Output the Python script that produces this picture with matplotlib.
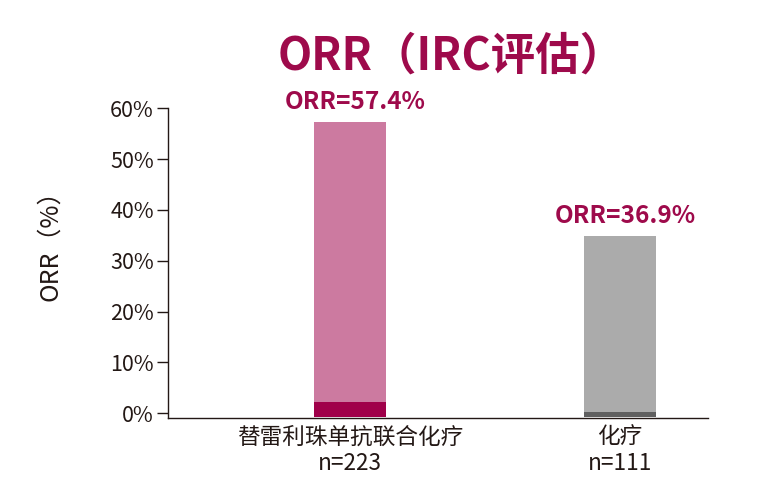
import matplotlib
matplotlib.use("Agg")
import matplotlib.pyplot as plt
from matplotlib.ticker import FixedLocator

plt.rcParams['font.family'] = ['Noto Sans CJK SC', 'DejaVu Sans']

# ---- data ----
categories = ["替雷利珠单抗联合化疗\nn=223", "化疗\nn=111"]
cr_values = [2.95, 0.9]          # dark bottom segment height (%)
bar_totals = [58.05, 35.55]      # total drawn bar height (%)
orr_labels = ["ORR=57.4%", "ORR=36.9%"]
yticks = [0, 10, 20, 30, 40, 50, 60]
ytick_labels = ["0%", "10%", "20%", "30%", "40%", "50%", "60%"]

# ---- style ----
accent = "#9E0A4B"
light_colors = ["#CC7AA0", "#ABABAB"]
dark_colors = ["#A0004A", "#606060"]
text_color = "#231815"
baseline = -0.65

fig = plt.figure(figsize=(7.57, 4.90), dpi=100)
ax = fig.add_axes([0.2215, 0.1463, 0.7138, 0.6327])

x = list(range(len(categories)))
width = 0.267
for i in x:
    ax.bar(i, cr_values[i], bottom=baseline, width=width, color=dark_colors[i], linewidth=0)
    ax.bar(i, bar_totals[i] - cr_values[i], bottom=baseline + cr_values[i], width=width,
           color=light_colors[i], linewidth=0)
    ax.text(i + 0.02, baseline + bar_totals[i] + 1.5, orr_labels[i], ha='center', va='bottom',
            color=accent, fontsize=17.5, fontweight='bold')

ax.set_xlim(-0.675, 1.326)
ax.set_ylim(-0.98, 60)
ax.set_yticks(yticks)
ax.set_yticklabels(ytick_labels, fontsize=15.5, color=text_color)
ax.yaxis.set_minor_locator(FixedLocator([60]))
ax.tick_params(axis='y', which='major', direction='out', length=8, width=1, colors=text_color, pad=2)
ax.tick_params(axis='y', which='minor', direction='inout', length=17, width=1, colors=text_color)
ax.set_xticks(x)
ax.set_xticklabels(categories, fontsize=16.3, color=text_color, linespacing=1.2)
ax.tick_params(axis='x', length=0, pad=5)

for s in ['top', 'right']:
    ax.spines[s].set_visible(False)
ax.spines['left'].set_bounds(-0.98, 60)
for s in ['left', 'bottom']:
    ax.spines[s].set_color(text_color)
    ax.spines[s].set_linewidth(1)

ax.set_ylabel("ORR（%）", fontsize=18, color=text_color)
# place ylabel at figure x ~ 50 px, centre y ~ 239 px
ax.yaxis.set_label_coords((50 - 167.7) / (0.7138 * 757), (418.3 - 239) / (0.6327 * 490))
ax.yaxis.label.set_va('center')

fig.text(0.596, 0.885, "ORR（IRC评估）", ha='center', va='center', color=accent,
         fontsize=32, fontweight='bold')

fig.savefig("out.png", dpi=100)
